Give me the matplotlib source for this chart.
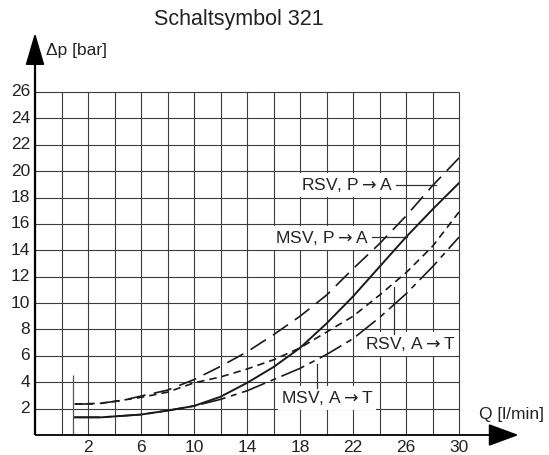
import numpy as np
import matplotlib
matplotlib.use("Agg")
import matplotlib.pyplot as plt
from matplotlib.patches import Polygon

plt.rcParams["font.family"] = ["Liberation Sans", "DejaVu Sans"]

# ── Data ──────────────────────────────────────────────────────────────────────
q_rsv_pa  = [1, 2.4, 4.5, 6, 8, 10, 12, 14, 16, 18, 20, 22, 24, 26, 28, 30]
dp_rsv_pa = [2.35, 2.35, 2.6, 2.95, 3.4, 4.2, 5.2, 6.3, 7.6, 9.0, 10.6, 12.6,
             14.5, 16.6, 18.9, 21.0]

q_msv_pa  = [1, 3, 6, 8, 10, 12, 14, 16, 18, 20, 22, 24, 26, 28, 30]
dp_msv_pa = [1.34, 1.34, 1.55, 1.85, 2.2, 2.9, 3.95, 5.15, 6.6, 8.45, 10.5,
             12.75, 15.0, 17.1, 19.1]

q_rsv_at  = [1, 3, 6, 8, 10, 12, 14, 16, 18, 20, 22, 24, 26, 28, 30]
dp_rsv_at = [2.35, 2.4, 2.85, 3.25, 3.95, 4.4, 5.0, 5.7, 6.6, 7.8, 9.0, 10.6,
             12.3, 14.3, 16.9]

q_msv_at  = [1, 3, 6, 8, 10, 12, 14, 16, 18, 20, 22, 24, 26, 28, 30]
dp_msv_at = [1.34, 1.34, 1.55, 1.85, 2.2, 2.7, 3.35, 4.2, 5.05, 6.1, 7.3, 8.9,
             10.7, 12.75, 15.0]

x_grid   = np.arange(-2, 31, 2)
y_grid   = np.arange(2, 27, 2)
x_labels = [2, 6, 10, 14, 18, 22, 26, 30]
y_labels = [2, 4, 6, 8, 10, 12, 14, 16, 18, 20, 22, 24, 26]

q_min = 0.85          # lower flow limit marker

# ── Figure ────────────────────────────────────────────────────────────────────
W, H = 549, 455
fig = plt.figure(figsize=(W / 100, H / 100), dpi=100, facecolor="white")
ax = fig.add_axes([35 / W, 20 / H, 424 / W, 343 / H])
ax.set_xlim(-2, 30)
ax.set_ylim(0, 26)
ax.set_axis_off()

sx = 32 / 424      # data units per pixel (x)
sy = 26 / 343      # data units per pixel (y)


def px(x):
    return (x - 35) * sx - 2


def py(y):
    return (435 - y) * sy


grid_c = "#3c3c3c"
txt_c = "#222222"
ax.vlines(x_grid, 0, 26, color=grid_c, lw=0.8, clip_on=False, zorder=1)
ax.hlines(y_grid, -2, 30, color=grid_c, lw=0.8, clip_on=False, zorder=1)

# axes with arrows
ax.plot([-2, -2], [0, 28.2], color="black", lw=1.6, clip_on=False, zorder=5,
        solid_capstyle="butt")
ax.plot([-2, 32.4], [0, 0], color="black", lw=1.3, clip_on=False, zorder=5,
        solid_capstyle="butt")
ax.add_patch(Polygon([[-2 - 8.5 * sx, 28.1], [-2 + 8.5 * sx, 28.1], [-2, 30.3]],
                     closed=True, color="black", clip_on=False, zorder=6))
ax.add_patch(Polygon([[32.3, 10 * sy], [32.3, -10 * sy], [34.35, 0]],
                     closed=True, color="black", clip_on=False, zorder=6))

# tick labels
for v in x_labels:
    ax.text(v, -12 * sy, str(v), ha="center", va="center", fontsize=12.5,
            color=txt_c)
for v in y_labels:
    ax.text(-2 - 5 * sx, v, str(v), ha="right", va="center", fontsize=12.5,
            color=txt_c)

# axis titles
ax.text(px(46), py(51), "Δp [bar]", ha="left", va="center", fontsize=12.5,
        color=txt_c)
ax.text(px(479), py(414), "Q [l/min]", ha="left", va="center", fontsize=12.5,
        color=txt_c)
fig.text(239 / W, 1 - 20 / H, "Schaltsymbol 321", ha="center", va="center",
         fontsize=15.5, color=txt_c)

# lower flow limit marker
ax.vlines(q_min, 0, 4.55, color="#555555", lw=0.9, zorder=2)

# ── Curves ────────────────────────────────────────────────────────────────────
lw = 1.2
l1, = ax.plot(q_rsv_pa, dp_rsv_pa, color="#1a1a1a", lw=lw, zorder=4)
l1.set_dashes([11, 5])
ax.plot(q_msv_pa, dp_msv_pa, color="#1a1a1a", lw=1.4, zorder=4)
l3, = ax.plot(q_rsv_at, dp_rsv_at, color="#1a1a1a", lw=lw, zorder=4)
l3.set_dashes([4.5, 3])
l4, = ax.plot(q_msv_at, dp_msv_at, color="#1a1a1a", lw=lw, zorder=4)
l4.set_dashes([15, 3.5, 3.5, 3.5])

# ── Curve labels with leader lines ────────────────────────────────────────────
box = dict(facecolor="white", edgecolor="none", pad=2)
lead_c = "#333333"
arrow = r"$\rightarrow$"

ax.text(px(301), py(185), f"RSV, P{arrow}A", ha="left", va="center",
        fontsize=12.5, color=txt_c, bbox=box, zorder=3)
ax.plot([px(396), px(436)], [py(185), py(185)], color=lead_c, lw=0.9, zorder=3)

ax.text(px(275), py(238), f"MSV, P{arrow}A", ha="left", va="center",
        fontsize=12.5, color=txt_c, bbox=box, zorder=3)
ax.plot([px(372), px(407)], [py(237), py(237)], color=lead_c, lw=0.9, zorder=3)

ax.text(px(365), py(344), f"RSV, A{arrow}T", ha="left", va="center",
        fontsize=12.5, color=txt_c, bbox=box, zorder=3)
ax.plot([px(393.5), px(393.5)], [py(287), py(334)], color=lead_c, lw=0.9,
        zorder=3)

ax.text(px(281), py(398), f"MSV, A{arrow}T", ha="left", va="center",
        fontsize=12.5, color=txt_c, bbox=box, zorder=3)
ax.plot([px(317), px(317)], [py(364), py(388)], color=lead_c, lw=0.9, zorder=3)

fig.savefig("out.png", dpi=100, facecolor="white")
